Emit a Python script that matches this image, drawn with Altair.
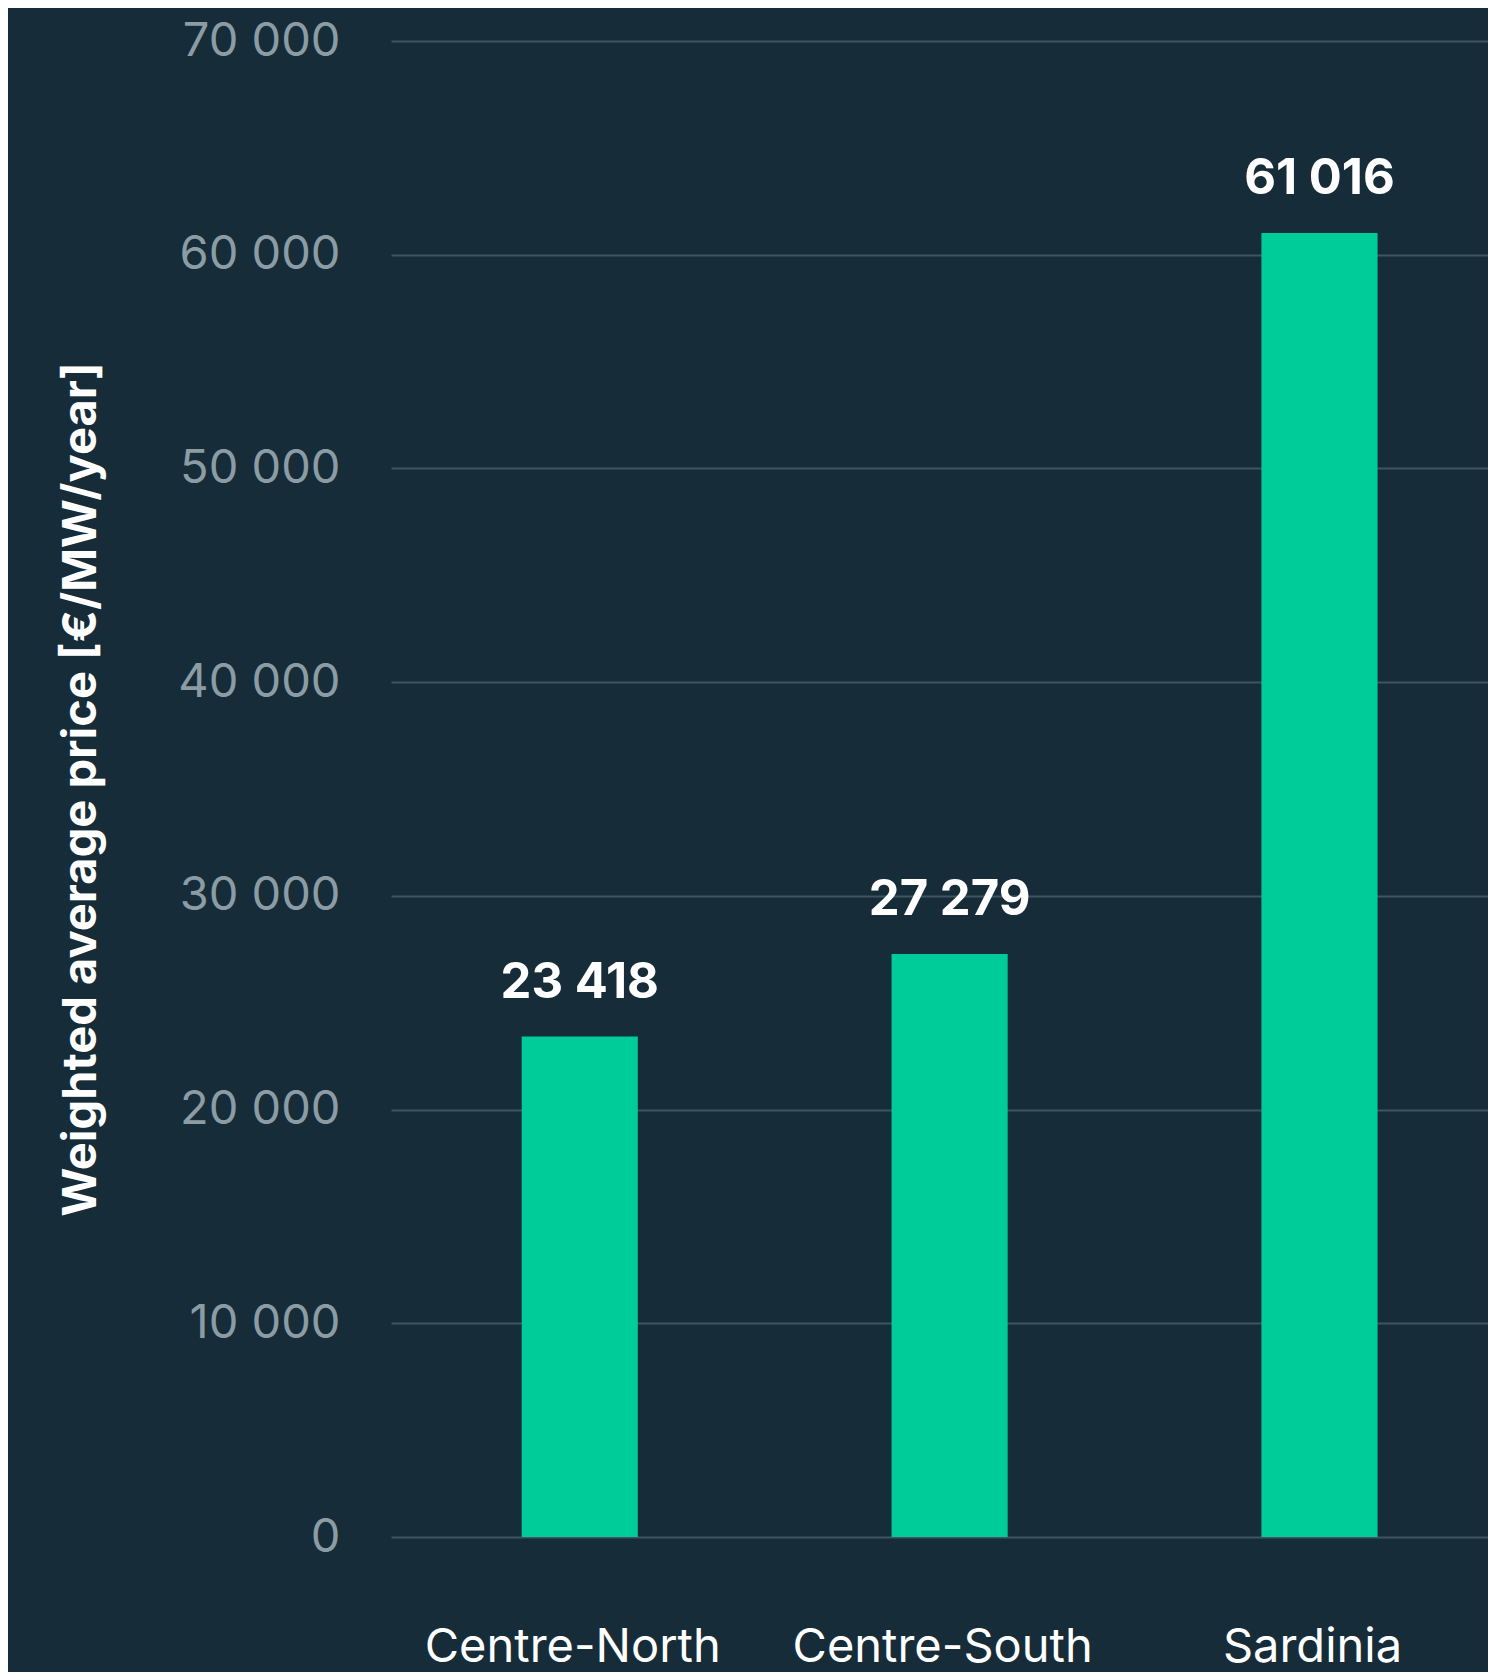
import altair as alt
import pandas as pd

regions = ["Centre-North", "Centre-South", "Sardinia"]
prices = [23418, 27279, 61016]
price_labels = ["23 418", "27 279", "61 016"]

df = pd.DataFrame({"region": regions, "price": prices, "label": price_labels})

BG = "#162c39"
BAR = "#00cc99"

base = alt.Chart(df).encode(
    x=alt.X(
        "region:N",
        sort=regions,
        scale=alt.Scale(paddingInner=0.686, paddingOuter=0.326, align=0.542),
        axis=alt.Axis(
            title=None,
            labelAngle=0,
            labelFont="Inter",
            labelFontSize=47,
            labelColor="#ffffff",
            labelPadding=87,
            labelOffset=-7,
            labelBaseline="top",
            labelLimit=0,
            ticks=False,
            domain=False,
            grid=False,
        ),
    ),
    y=alt.Y(
        "price:Q",
        scale=alt.Scale(domain=[0, 70000], nice=False),
        axis=alt.Axis(
            title="Weighted average price [€/MW/year]",
            titleFont="Inter",
            titleFontSize=47,
            titleFontWeight="bold",
            titleColor="#ffffff",
            titlePadding=86,
            values=[0, 10000, 20000, 30000, 40000, 50000, 60000, 70000],
            labelExpr="replace(format(datum.value, ',d'), ',', ' ')",
            labelFont="Inter",
            labelFontSize=47,
            labelColor="#8c9ca4",
            labelPadding=51,
            ticks=False,
            domain=False,
            grid=True,
            gridColor="#3e5560",
            gridWidth=2,
        ),
    ),
)

bars = base.mark_bar(color=BAR)
text = base.mark_text(
    font="Inter", fontSize=49, fontWeight="bold", color="#ffffff",
    baseline="alphabetic", dy=-39,
).encode(text="label:N")

chart = (bars + text).properties(
    width=1097,
    height=1496,
    background=BG,
    autosize=alt.AutoSizeParams(type="none"),
    padding={"left": 383, "top": 33, "right": 0, "bottom": 150},
).configure_view(stroke=None)

chart.save("out.html", embed_options={"renderer": "svg", "actions": False})
